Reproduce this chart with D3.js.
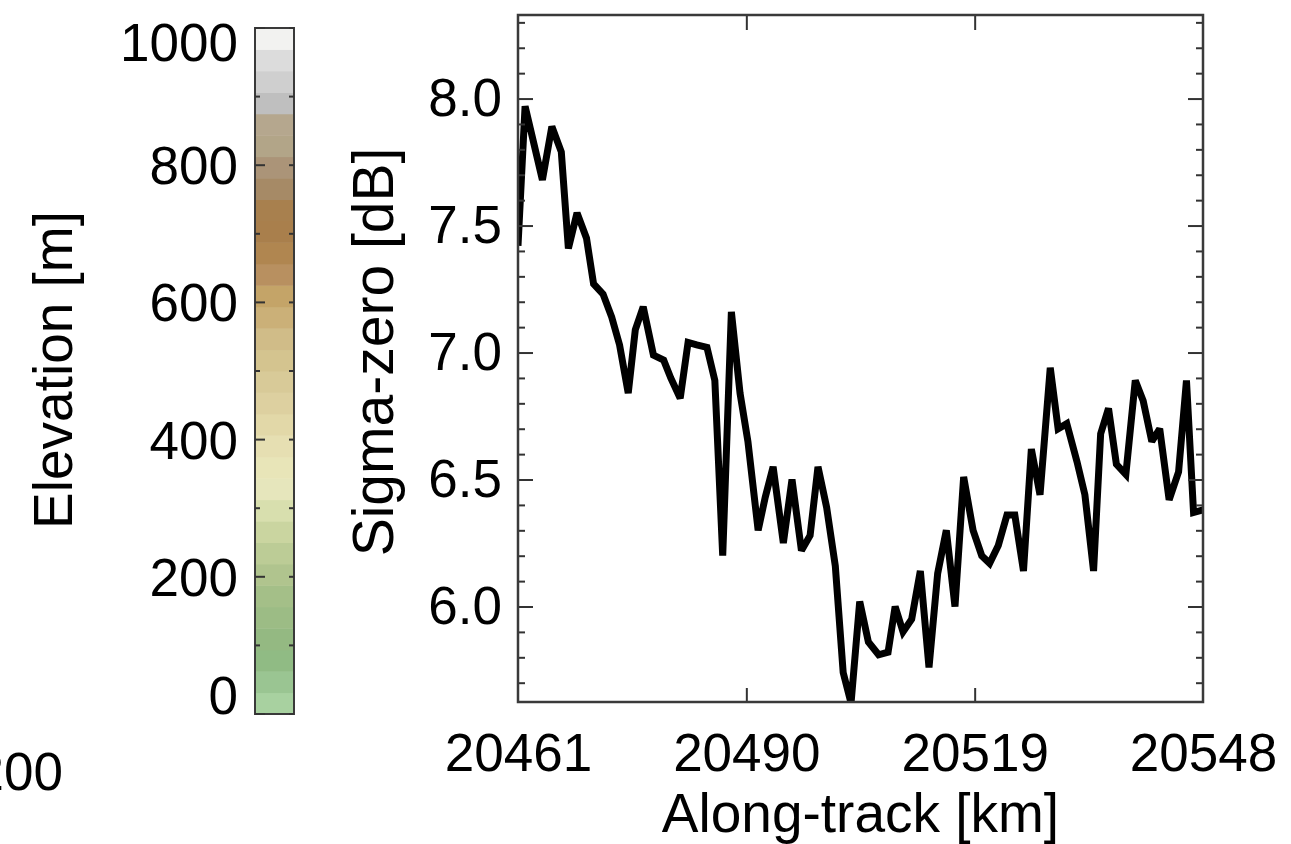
<!DOCTYPE html>
<html>
<head>
<meta charset="utf-8">
<script src="https://cdn.jsdelivr.net/npm/d3@7"></script>
<style>
  html, body { margin: 0; padding: 0; background: #fff; }
  svg { display: block; }
  text { font-family: "Liberation Sans", Arial, Helvetica, sans-serif; fill: #000; }
</style>
</head>
<body>
<svg id="fig" width="1291" height="844"></svg>
<script>
// Along-track distance [km] of each sample
const alongTrack = [
  20461.0, 20461.9, 20464.1, 20465.3, 20466.5, 20467.4, 20468.5, 20469.7, 20470.6, 20471.8,
  20472.9, 20473.9, 20475.0, 20475.9, 20476.9, 20478.2, 20479.5, 20480.4, 20481.6, 20482.6,
  20483.7, 20485.0, 20486.0, 20487.0, 20488.1, 20489.2, 20490.2, 20491.5, 20492.4, 20493.4,
  20494.7, 20495.8, 20497.0, 20498.1, 20499.1, 20500.2, 20501.3, 20502.3, 20503.3, 20504.4,
  20505.5, 20506.8, 20508.0, 20508.9, 20509.9, 20511.0, 20512.1, 20513.2, 20514.3, 20515.4,
  20516.5, 20517.6, 20518.8, 20519.9, 20520.9, 20522.0, 20523.1, 20524.1, 20525.2, 20526.2,
  20527.3, 20528.6, 20529.6, 20530.7, 20532.0, 20533.0, 20534.1, 20535.0, 20536.0, 20537.0,
  20538.2, 20539.4, 20540.4, 20541.5, 20542.5, 20543.7, 20544.9, 20545.9, 20546.8, 20548.0
];
// Backscatter coefficient sigma-zero [dB]
const sigma0 = [
  7.42, 7.97, 7.68, 7.89, 7.79, 7.41, 7.55, 7.45, 7.27, 7.23,
  7.14, 7.03, 6.84, 7.09, 7.18, 6.99, 6.97, 6.90, 6.82, 7.04,
  7.03, 7.02, 6.89, 6.20, 7.16, 6.84, 6.65, 6.30, 6.43, 6.55,
  6.25, 6.50, 6.22, 6.28, 6.55, 6.39, 6.16, 5.74, 5.62, 6.02,
  5.86, 5.81, 5.82, 6.00, 5.90, 5.95, 6.14, 5.76, 6.13, 6.30,
  6.00, 6.51, 6.30, 6.20, 6.17, 6.24, 6.36, 6.36, 6.14, 6.62,
  6.44, 6.94, 6.70, 6.72, 6.57, 6.44, 6.14, 6.68, 6.78, 6.56,
  6.52, 6.89, 6.81, 6.65, 6.70, 6.42, 6.53, 6.89, 6.37, 6.38
];

const xTicks = [20461, 20490, 20519, 20548];
const yMajorTicks = [6.0, 6.5, 7.0, 7.5, 8.0];
const yMinorTicks = d3.range(57, 84).map(d => d / 10);

// Elevation colour bar: 32 discrete levels from 0 to 1000 m (bottom to top)
const elevationLevels = d3.range(0, 33).map(i => i * 1000 / 32);
const elevationColors = [
  "#a8d1a0", "#9ac592", "#90bb84", "#94b982", "#9cbc85", "#a4bf88", "#b0c48e", "#bccc96",
  "#cad5a0", "#d8dfae", "#e6e6bc", "#e8e5b8", "#e6dfb2", "#e2d8a8", "#ddd0a0", "#d8ca98",
  "#d4c48f", "#d0bc88", "#cbb078", "#c4a468", "#b89060", "#b08650", "#a97f4c", "#a8804e",
  "#a68a66", "#ab9478", "#b2a588", "#b5a78e", "#bfbfbf", "#cfcfcf", "#dcdcdc", "#f2f2f0"
];
const elevationTicks = [0, 200, 400, 600, 800, 1000];
const elevationMinorTicks = [100, 300, 500, 700, 900];

const svg = d3.select("#fig");

// ---------------- colour bar ----------------
const cb = { left: 255, right: 294, top: 28, bottom: 714 };
const ce = d3.scaleLinear().domain([0, 1000]).range([cb.bottom, cb.top]);

const cbar = svg.append("g");
cbar.selectAll("rect.level")
  .data(elevationColors)
  .join("rect")
  .attr("class", "level")
  .attr("x", cb.left)
  .attr("width", cb.right - cb.left)
  .attr("y", (c, i) => ce(elevationLevels[i + 1]))
  .attr("height", (c, i) => ce(elevationLevels[i]) - ce(elevationLevels[i + 1]) + 0.5)
  .attr("fill", c => c);

cbar.append("rect")
  .attr("x", cb.left).attr("y", cb.top)
  .attr("width", cb.right - cb.left).attr("height", cb.bottom - cb.top)
  .attr("fill", "none").attr("stroke", "#3a3a3a").attr("stroke-width", 2);

// left ticks: long for labelled, short for unlabelled
cbar.selectAll("line.cbmaj")
  .data(elevationTicks)
  .join("line")
  .attr("x1", cb.left).attr("x2", cb.left + 10)
  .attr("y1", d => ce(d)).attr("y2", d => ce(d))
  .attr("stroke", "#333").attr("stroke-width", 2);
cbar.selectAll("line.cbmin")
  .data(elevationMinorTicks)
  .join("line")
  .attr("x1", cb.left).attr("x2", cb.left + 5)
  .attr("y1", d => ce(d)).attr("y2", d => ce(d))
  .attr("stroke", "#333").attr("stroke-width", 2);
cbar.selectAll("line.cbright")
  .data(elevationTicks.concat(elevationMinorTicks))
  .join("line")
  .attr("x1", cb.right - 5).attr("x2", cb.right)
  .attr("y1", d => ce(d)).attr("y2", d => ce(d))
  .attr("stroke", "#333").attr("stroke-width", 2);

// labels kept inside the bar's extent
cbar.selectAll("text.cblab")
  .data(elevationTicks)
  .join("text")
  .attr("x", 238)
  .attr("y", d => Math.min(Math.max(ce(d), cb.top + 14), cb.bottom - 19))
  .attr("dy", "0.36em")
  .attr("text-anchor", "end")
  .attr("font-size", 53)
  .text(d => d);

svg.append("text")
  .attr("transform", "translate(72,370) rotate(-90)")
  .attr("text-anchor", "middle")
  .attr("font-size", 55)
  .text("Elevation [m]");

// tick label of the neighbouring panel, cut by the figure edge
svg.append("text")
  .attr("x", 63).attr("y", 790)
  .attr("text-anchor", "end")
  .attr("font-size", 53)
  .text("200");

// ---------------- sigma-zero profile ----------------
const pl = { left: 518, right: 1203, top: 15, bottom: 702 };
const x = d3.scaleLinear().domain([20461, 20548]).range([pl.left, pl.right]);
const y = d3.scaleLinear().domain([5.624, 8.329]).range([pl.bottom, pl.top]);

svg.append("defs").append("clipPath").attr("id", "plotclip")
  .append("rect")
  .attr("x", pl.left).attr("y", pl.top)
  .attr("width", pl.right - pl.left).attr("height", pl.bottom - pl.top);

const line = d3.line()
  .x((d, i) => x(alongTrack[i]))
  .y(d => y(d));

svg.append("path")
  .datum(sigma0)
  .attr("clip-path", "url(#plotclip)")
  .attr("d", line)
  .attr("fill", "none")
  .attr("stroke", "#000")
  .attr("stroke-width", 7)
  .attr("stroke-linejoin", "miter")
  .attr("stroke-miterlimit", 2.5);

// axes: labelled bottom and left, mirrored ticks on top and right
const axisStyle = g => {
  g.select(".domain").remove();
  g.selectAll(".tick line").attr("stroke", "#333").attr("stroke-width", 2);
};
const minorOnly = yMinorTicks.filter(v => !yMajorTicks.some(m => Math.abs(m - v) < 1e-6));

const bottomAxis = svg.append("g")
  .attr("transform", `translate(0,${pl.bottom})`)
  .call(d3.axisBottom(x).tickValues(xTicks).tickFormat(d3.format("d")).tickSizeInner(-14).tickPadding(31));
bottomAxis.call(axisStyle);
bottomAxis.selectAll(".tick line").filter(d => d === 20461 || d === 20548).remove();
bottomAxis.selectAll("text").attr("font-size", 53).attr("font-family", null).attr("fill", "#000");

const topAxis = svg.append("g")
  .attr("transform", `translate(0,${pl.top})`)
  .call(d3.axisTop(x).tickValues(xTicks.slice(1, 3)).tickFormat("").tickSizeInner(-15));
topAxis.call(axisStyle);

const leftAxis = svg.append("g")
  .attr("transform", `translate(${pl.left},0)`)
  .call(d3.axisLeft(y).tickValues(yMajorTicks).tickFormat(d3.format(".1f")).tickSizeInner(-15).tickPadding(16));
leftAxis.call(axisStyle);
leftAxis.selectAll("text").attr("font-size", 53).attr("font-family", null).attr("fill", "#000");

const leftMinor = svg.append("g")
  .attr("transform", `translate(${pl.left},0)`)
  .call(d3.axisLeft(y).tickValues(minorOnly).tickFormat("").tickSizeInner(-7));
leftMinor.call(axisStyle);

const rightAxis = svg.append("g")
  .attr("transform", `translate(${pl.right},0)`)
  .call(d3.axisRight(y).tickValues(yMajorTicks).tickFormat("").tickSizeInner(-15));
rightAxis.call(axisStyle);

const rightMinor = svg.append("g")
  .attr("transform", `translate(${pl.right},0)`)
  .call(d3.axisRight(y).tickValues(minorOnly).tickFormat("").tickSizeInner(-7));
rightMinor.call(axisStyle);

// frame
svg.append("rect")
  .attr("x", pl.left).attr("y", pl.top)
  .attr("width", pl.right - pl.left).attr("height", pl.bottom - pl.top)
  .attr("fill", "none").attr("stroke", "#3a3a3a").attr("stroke-width", 2.5);

// axis titles
svg.append("text")
  .attr("x", (pl.left + pl.right) / 2).attr("y", 832)
  .attr("text-anchor", "middle")
  .attr("font-size", 55)
  .text("Along-track [km]");

svg.append("text")
  .attr("transform", "translate(393,352) rotate(-90)")
  .attr("text-anchor", "middle")
  .attr("font-size", 57)
  .text("Sigma-zero [dB]");
</script>
</body>
</html>
